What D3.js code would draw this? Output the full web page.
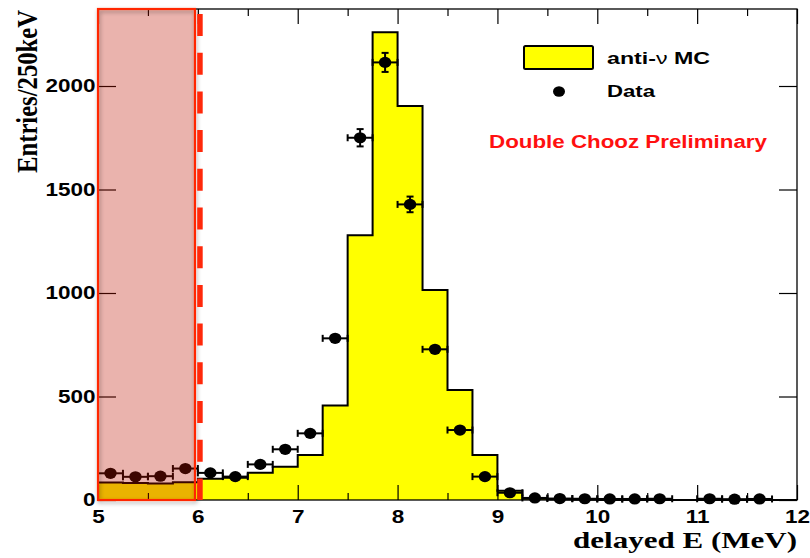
<!DOCTYPE html>
<html>
<head>
<meta charset="utf-8">
<script src="https://cdn.jsdelivr.net/npm/d3@7"></script>
<style>
  body { margin: 0; background: #fff; }
  svg { display: block; }
</style>
</head>
<body>
<svg id="chart" width="810" height="558"></svg>
<script>
// Delayed-event energy spectrum, 250 keV bins from 5 to 12 MeV
const binCenters = [5.125, 5.375, 5.625, 5.875, 6.125, 6.375, 6.625, 6.875,
                    7.125, 7.375, 7.625, 7.875, 8.125, 8.375, 8.625, 8.875,
                    9.125, 9.375, 9.625, 9.875, 10.125, 10.375, 10.625, 10.875,
                    11.125, 11.375, 11.625, 11.875];
const binHalfWidth = 0.125;

// anti-neutrino Monte Carlo expectation per bin
const mcCounts = [85, 82, 80, 86, 103, 108, 132, 161,
                  217, 457, 1279, 2260, 1903, 1014, 531, 217,
                  45, 6, 2, 1, 0, 0, 0, 0,
                  0, 0, 0, 0];

// observed events per bin (null = empty bin, not drawn)
const dataCounts = [129, 112, 115, 152, 131, 113, 172, 245,
                    322, 781, 1750, 2114, 1428, 728, 338, 113,
                    35, 10, 7, 6, 5, 5, 6, null,
                    6, 4, 5, null];

const xMajorTicks = [5, 6, 7, 8, 9, 10, 11, 12];
const xMinorTicks = [5.5, 6.5, 7.5, 8.5, 9.5, 10.5, 11.5];
const yTicks = [0, 500, 1000, 1500, 2000];

const xDomain = [5, 12];
const yDomain = [0, 2372];
const vetoRegion = [5, 5.971];   // shaded, excluded window
const cutEnergy = 6.021;          // dashed threshold line

const svg = d3.select("#chart");
const plotL = 98, plotR = 797, plotT = 9, plotB = 500;

const x = d3.scaleLinear().domain(xDomain).range([plotL, plotR]);
const y = d3.scaleLinear().domain(yDomain).range([plotB, plotT]);

const defs = svg.append("defs");
const shadow = defs.append("filter").attr("id", "soft")
  .attr("x", "-20%").attr("y", "-5%").attr("width", "140%").attr("height", "110%");
shadow.append("feDropShadow").attr("dx", 1).attr("dy", 2)
  .attr("stdDeviation", 2).attr("flood-color", "#000").attr("flood-opacity", 0.35);

// ---- MC histogram (filled steps) ----
const steps = binCenters.map((c, i) => ({ e: c - binHalfWidth, v: mcCounts[i] }));
steps.push({ e: binCenters[binCenters.length - 1] + binHalfWidth, v: mcCounts[mcCounts.length - 1] });

const area = d3.area().curve(d3.curveStepAfter)
  .x(d => x(d.e)).y0(y(0)).y1(d => y(d.v));
const outline = d3.line().curve(d3.curveStepAfter)
  .x(d => x(d.e)).y(d => y(d.v));

svg.append("path").datum(steps).attr("d", area)
  .attr("fill", "#ffff00").attr("stroke", "none");
svg.append("path").datum(steps).attr("d", outline)
  .attr("fill", "none").attr("stroke", "#000").attr("stroke-width", 2)
  .attr("stroke-linejoin", "miter");

// ---- data points with error bars ----
const pts = binCenters.map((c, i) => ({ c, v: dataCounts[i] })).filter(d => d.v !== null);
const gPts = svg.append("g").attr("stroke", "#000").attr("stroke-width", 2);
const cap = 3.5;
pts.forEach(d => {
  const g = gPts.append("g");
  const cx = x(d.c), cy = y(d.v);
  const xl = x(d.c - binHalfWidth), xr = x(d.c + binHalfWidth);
  const err = Math.sqrt(d.v);
  const yt = y(d.v + err), yb = y(d.v - err);
  g.append("line").attr("x1", xl).attr("x2", xr).attr("y1", cy).attr("y2", cy);
  g.append("line").attr("x1", xl).attr("x2", xl).attr("y1", cy - cap).attr("y2", cy + cap);
  g.append("line").attr("x1", xr).attr("x2", xr).attr("y1", cy - cap).attr("y2", cy + cap);
  if (cy - yt > 6) {
    g.append("line").attr("x1", cx).attr("x2", cx).attr("y1", yt).attr("y2", yb);
    g.append("line").attr("x1", cx - cap).attr("x2", cx + cap).attr("y1", yt).attr("y2", yt);
    g.append("line").attr("x1", cx - cap).attr("x2", cx + cap).attr("y1", yb).attr("y2", yb);
  }
  g.append("ellipse").attr("cx", cx).attr("cy", cy).attr("rx", 6.2).attr("ry", 5.6)
    .attr("fill", "#000").attr("stroke", "none");
});

// ---- frame and axes ----
svg.append("rect").attr("x", plotL).attr("y", plotT)
  .attr("width", plotR - plotL).attr("height", plotB - plotT)
  .attr("fill", "none").attr("stroke", "#000").attr("stroke-width", 1.3);

function styleAxis(g) {
  g.select(".domain").remove();
  g.selectAll(".tick line").attr("stroke", "#000").attr("stroke-width", 1.2);
  g.selectAll("text")
    .attr("font-family", "'Liberation Sans', Arial, sans-serif")
    .attr("font-weight", "bold").attr("font-size", 18).attr("fill", "#000");
}

const gxB = svg.append("g").attr("transform", `translate(0,${plotB})`)
  .call(d3.axisBottom(x).tickValues(xMajorTicks).tickSize(-15).tickPadding(10).tickFormat(d3.format("d")));
styleAxis(gxB);
gxB.selectAll("text").attr("transform", "scale(1.25,1)");

svg.append("g").attr("transform", `translate(0,${plotB})`)
  .call(d3.axisBottom(x).tickValues(xMinorTicks).tickSize(-7).tickFormat(""))
  .call(styleAxis);
svg.append("g").attr("transform", `translate(0,${plotT})`)
  .call(d3.axisTop(x).tickValues(xMajorTicks).tickSize(-15).tickFormat(""))
  .call(styleAxis);
svg.append("g").attr("transform", `translate(0,${plotT})`)
  .call(d3.axisTop(x).tickValues(xMinorTicks).tickSize(-7).tickFormat(""))
  .call(styleAxis);

const gyL = svg.append("g").attr("transform", `translate(${plotL},0)`)
  .call(d3.axisLeft(y).tickValues(yTicks).tickSize(-18).tickPadding(2).tickFormat(d3.format("d")));
styleAxis(gyL);
gyL.selectAll("text").attr("transform", "scale(1.25,1)");

svg.append("g").attr("transform", `translate(${plotR},0)`)
  .call(d3.axisRight(y).tickValues(yTicks).tickSize(-18).tickFormat(""))
  .call(styleAxis);

// ---- excluded energy window ----
svg.append("rect")
  .attr("x", x(vetoRegion[0])).attr("y", plotT)
  .attr("width", x(vetoRegion[1]) - x(vetoRegion[0])).attr("height", plotB - plotT)
  .attr("fill", "rgb(189,19,0)").attr("fill-opacity", 0.32);
svg.append("rect")
  .attr("x", x(vetoRegion[0])).attr("y", plotT)
  .attr("width", x(vetoRegion[1]) - x(vetoRegion[0])).attr("height", plotB - plotT)
  .attr("fill", "none").attr("stroke", "rgb(255,40,0)").attr("stroke-width", 2.2)
  .attr("filter", "url(#soft)");

svg.append("line")
  .attr("x1", x(cutEnergy)).attr("x2", x(cutEnergy))
  .attr("y1", plotT + 5).attr("y2", plotB)
  .attr("stroke", "rgb(255,40,10)").attr("stroke-width", 5.5)
  .attr("stroke-dasharray", "22,16.7");

// ---- axis titles ----
svg.append("text")
  .attr("transform", `translate(${plotR},548)`)
  .attr("text-anchor", "end")
  .attr("font-family", "'Liberation Serif', 'Times New Roman', serif")
  .attr("font-weight", "bold").attr("font-size", 23)
  .attr("textLength", 224).attr("lengthAdjust", "spacingAndGlyphs")
  .text("delayed E (MeV)");

svg.append("text")
  .attr("transform", "translate(37,10) scale(1.35,1) rotate(-90)")
  .attr("text-anchor", "end")
  .attr("font-family", "'Liberation Serif', 'Times New Roman', serif")
  .attr("font-weight", "bold").attr("font-size", 22)
  .attr("textLength", 163).attr("lengthAdjust", "spacingAndGlyphs")
  .text("Entries/250keV");

// ---- legend ----
const legFont = "'Liberation Sans', Arial, sans-serif";
svg.append("rect").attr("x", 524).attr("y", 46).attr("width", 69).attr("height", 23)
  .attr("rx", 1.5).attr("fill", "#ffff00").attr("stroke", "#000").attr("stroke-width", 2);
const t1 = svg.append("text").attr("x", 607).attr("y", 63.5)
  .attr("font-family", legFont).attr("font-weight", "bold").attr("font-size", 16)
  .attr("textLength", 103).attr("lengthAdjust", "spacingAndGlyphs");
t1.append("tspan").text("anti-");
t1.append("tspan").attr("font-weight", "normal").text("ν");
t1.append("tspan").text(" MC");

svg.append("ellipse").attr("cx", 559).attr("cy", 91.5).attr("rx", 6).attr("ry", 5.2).attr("fill", "#000");
svg.append("text").attr("x", 607).attr("y", 96.7)
  .attr("font-family", legFont).attr("font-weight", "bold").attr("font-size", 16)
  .attr("textLength", 48).attr("lengthAdjust", "spacingAndGlyphs")
  .text("Data");

svg.append("text").attr("x", 489).attr("y", 148)
  .attr("font-family", legFont).attr("font-weight", "bold").attr("font-size", 18)
  .attr("fill", "#ff1010")
  .attr("textLength", 278).attr("lengthAdjust", "spacingAndGlyphs")
  .text("Double Chooz Preliminary");
</script>
</body>
</html>
